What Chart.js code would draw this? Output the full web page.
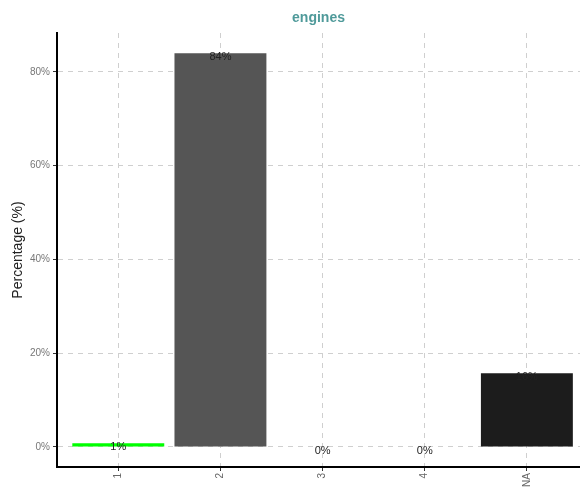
<!DOCTYPE html>
<html>
<head>
<meta charset="utf-8">
<script src="https://cdn.jsdelivr.net/npm/chart.js@4"></script>
<style>
  body { margin: 0; background: #fff; }
  #wrap { width: 580px; height: 490px; }
</style>
</head>
<body>
<div id="wrap"><canvas id="engChart"></canvas></div>
<script>
categories = ["1", "2", "3", "4", "NA"];
percents = [0.8, 84, 0, 0, 15.7];
barColors = ["#00ff00", "#555555", "#555555", "#555555", "#1c1c1c"];
yTicks = [0, 20, 40, 60, 80];
chartTitle = "engines";

// bar labels + title centred on the plot area
const extras = {
    id: "extras",
    afterDatasetsDraw(chart){
        const ctx = chart.ctx;
        const meta = chart.getDatasetMeta(0);
        ctx.save();
        ctx.font = "11px 'Liberation Sans', Arial, sans-serif";
        ctx.fillStyle = "#222";
        ctx.textAlign = "center";
        ctx.textBaseline = "middle";
        meta.data.forEach((bar, i) => {
            ctx.fillText(Math.round(percents[i]) + "%", bar.x, bar.y + 4);
        });
        const area = chart.chartArea;
        ctx.font = "bold 14px 'Liberation Sans', Arial, sans-serif";
        ctx.fillStyle = "#4f9a9a";
        ctx.fillText(chartTitle, (area.left + area.right) / 2, 18);
        ctx.restore();
    }
};

new Chart("engChart", {
    type: "bar",
    data: {
        datasets: [{
            data: percents.map((v, i) => ({x: i, y: v})),
            backgroundColor: barColors,
            borderWidth: 0,
            barPercentage: 0.9,
            categoryPercentage: 1
        }]
    },
    options: {
        responsive: true,
        maintainAspectRatio: false,
        animation: false,
        events: [],
        layout: {padding: {top: 33, left: 0, right: 0, bottom: 0}},
        plugins: {legend: {display: false}, tooltip: {enabled: false}},
        scales: {
            x: {
                type: "linear",
                min: -0.6,
                max: 4.52,
                offset: false,
                afterBuildTicks: (s) => { s.ticks = categories.map((c, i) => ({value: i})); },
                afterFit: (s) => { s.height = 23; },
                ticks: {
                    callback: (v) => categories[v],
                    minRotation: 90,
                    maxRotation: 90,
                    padding: 2,
                    color: "#666",
                    font: {size: 10, family: "'Liberation Sans', Arial, sans-serif"}
                },
                grid: {offset: false, color: "#cfcfcf", lineWidth: 1, tickLength: 4, tickColor: "#333"},
                border: {display: true, color: "#000", width: 2, dash: [5, 5]}
            },
            y: {
                min: -4.27,
                max: 88.3,
                afterBuildTicks: (s) => { s.ticks = yTicks.map(v => ({value: v})); },
                afterFit: (s) => { s.width = 57; },
                ticks: {
                    callback: (v) => v + "%",
                    padding: 3,
                    color: "#777",
                    font: {size: 10, family: "'Liberation Sans', Arial, sans-serif"}
                },
                grid: {color: "#cfcfcf", lineWidth: 1, tickLength: 4, tickColor: "#333"},
                border: {display: true, color: "#000", width: 2, dash: [5, 5]},
                title: {
                    display: true,
                    text: "Percentage (%)",
                    color: "#222",
                    padding: {top: 10, bottom: 0},
                    font: {size: 14, family: "'Liberation Sans', Arial, sans-serif"}
                }
            }
        }
    },
    plugins: [extras]
});
</script>
</body>
</html>
